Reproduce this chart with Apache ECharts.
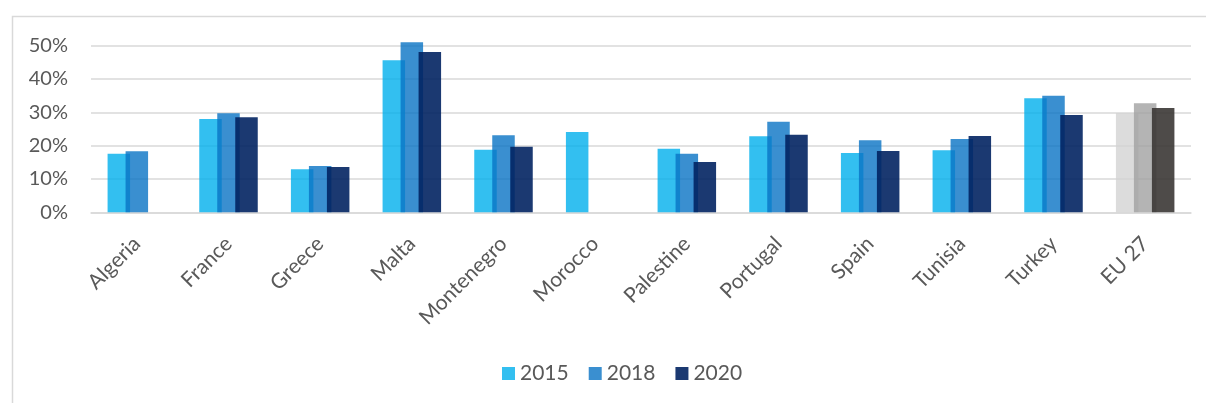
<!DOCTYPE html>
<html>
<head>
<meta charset="utf-8">
<script src="https://cdn.jsdelivr.net/npm/echarts@6/dist/echarts.min.js"></script>
<style>
  html, body { margin: 0; padding: 0; background: #ffffff; }
  #chart { width: 1206px; height: 403px; }
</style>
</head>
<body>
<div id="chart"></div>
<script>
// Share of population by country, three survey years (percent)
const categories = ['Algeria', 'France', 'Greece', 'Malta', 'Montenegro', 'Morocco',
  'Palestine', 'Portugal', 'Spain', 'Tunisia', 'Turkey', 'EU 27'];
const years = ['2015', '2018', '2020'];
const values2015 = [17.6, 28.0, 12.9, 45.6, 18.8, 24.1, 19.1, 22.8, 17.8, 18.6, 34.2, 29.8];
const values2018 = [18.3, 29.7, 13.9, 51.0, 23.1, null, 17.6, 27.2, 21.6, 22.0, 35.0, 32.7];
const values2020 = [null, 28.5, 13.6, 48.1, 19.7, null, 15.1, 23.3, 18.4, 22.9, 29.2, 31.3];
const yTicks = [0, 10, 20, 30, 40, 50];

// Translucent fills so neighbouring bars darken where they overlap
const seriesColors = ['rgba(0,175,236,0.8)', 'rgba(9,115,196,0.8)', 'rgba(2,36,98,0.9)'];
const euColors = ['rgba(211,211,211,0.8)', 'rgba(161,161,161,0.8)', 'rgba(59,55,53,0.9)'];
const euIndex = categories.indexOf('EU 27');

const FONT = 'Lato';
const TEXT = '#595959';
const GRID_LINE = '#d9d9d9';

function buildData(values, k) {
  return values.map((v, i) => i === euIndex
    ? { value: v, itemStyle: { color: euColors[k] } }
    : v);
}

const allValues = [values2015, values2018, values2020];
const series = years.map((y, k) => ({
  name: y,
  type: 'bar',
  data: buildData(allValues[k], k),
  barWidth: 22.5,
  barGap: '-20%',
  clip: false,
  itemStyle: { color: seriesColors[k] },
  emphasis: { disabled: true }
}));

const chart = echarts.init(document.getElementById('chart'), null, { renderer: 'canvas' });
chart.setOption({
  animation: false,
  backgroundColor: '#ffffff',
  textStyle: { fontFamily: FONT },
  graphic: [{
    type: 'rect',
    left: 10, top: 14,
    shape: { width: 1300, height: 500 },
    style: { fill: 'none', stroke: GRID_LINE, lineWidth: 1.5 },
    silent: true
  }],
  legend: {
    data: years,
    bottom: 14,
    left: 497,
    icon: 'rect',
    itemWidth: 13,
    itemHeight: 13,
    itemGap: 20,
    textStyle: { fontFamily: FONT, fontSize: 21, color: TEXT }
  },
  grid: { left: 91, right: 15, top: 45.7, bottom: 190.7, containLabel: false },
  xAxis: {
    type: 'category',
    data: categories,
    axisLine: { show: true, lineStyle: { color: GRID_LINE, width: 1.5 } },
    axisTick: { show: false },
    axisLabel: {
      rotate: 45,
      interval: 0,
      margin: 28,
      fontFamily: FONT,
      fontSize: 21,
      color: TEXT
    }
  },
  yAxis: {
    type: 'value',
    min: yTicks[0],
    max: yTicks[yTicks.length - 1],
    interval: yTicks[1] - yTicks[0],
    axisLine: { show: false },
    axisTick: { show: false },
    splitLine: { lineStyle: { color: GRID_LINE, width: 1.5 } },
    axisLabel: {
      margin: 23,
      fontFamily: FONT,
      fontSize: 20,
      color: TEXT,
      formatter: v => v + '%'
    }
  },
  series: series
});
</script>
</body>
</html>
